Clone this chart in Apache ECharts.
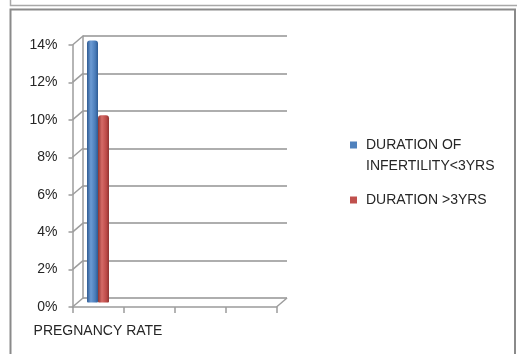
<!DOCTYPE html>
<html>
<head>
<meta charset="utf-8">
<script src="https://cdn.jsdelivr.net/npm/echarts@6/dist/echarts.min.js"></script>
<style>
html, body { margin: 0; padding: 0; background: #fff; }
#Chart { width: 517px; height: 354px; }
</style>
</head>
<body>
<div id="Chart"></div>
<script>
var categories = ['PREGNANCY RATE', '', '', ''];
var seriesNames = ['DURATION OF\nINFERTILITY<3YRS', 'DURATION >3YRS'];
var shortInfertility = [14, null, null, null];
var longInfertility = [10, null, null, null];
var yTicks = [0, 2, 4, 6, 8, 10, 12, 14];

var lineColor = '#9c9c9c';
var textColor = '#262626';
var font = 'Liberation Sans';
// 3D depth: back wall is shifted this much from the front plane
var depthX = 10.5, depthY = -9;

// cylinder-like shading across the bar
function cylinder(edge, light, mid) {
    return new echarts.graphic.LinearGradient(0, 0, 1, 0, [
        { offset: 0, color: edge },
        { offset: 0.35, color: light },
        { offset: 0.75, color: mid },
        { offset: 1, color: edge }
    ]);
}

var Chart = function () {
    var myChart = echarts.init(document.getElementById('Chart'));
    var connectors = yTicks.map(function (v) { return [0, v, -1]; });
    connectors.push([categories.length - 1, 0, 1]);

    var option = {
        animation: false,
        backgroundColor: '#fff',
        textStyle: { fontFamily: font },
        graphic: [
            { type: 'polyline', silent: true, shape: { points: [[10.5, 0], [10.5, 5.5], [517, 5.5]] },
              style: { stroke: '#a8a8a8', lineWidth: 1.5, fill: null } },
            { type: 'polyline', silent: true, shape: { points: [[10.5, 360], [10.5, 9.5], [515, 9.5], [515, 360]] },
              style: { stroke: '#8a8a8a', lineWidth: 2, fill: null } }
        ],
        legend: {
            orient: 'vertical',
            left: 350,
            top: 112.75,
            padding: 0,
            itemWidth: 7,
            itemHeight: 7,
            itemGap: 12,
            icon: 'rect',
            selectedMode: false,
            // blank first line so the marker sits beside the first text line
            formatter: function (name) {
                return name.indexOf('\n') >= 0 ? ' \n' + name : name;
            },
            textStyle: { fontSize: 14, color: textColor, fontFamily: font, lineHeight: 21.5, padding: [0, 0, 0, 4] },
            data: [
                { name: seriesNames[0], itemStyle: { color: '#4f81bd' } },
                { name: seriesNames[1], itemStyle: { color: '#c0504d' } }
            ]
        },
        grid: [
            // front plane
            { left: 72.5, top: 45, width: 204, height: 262 },
            // back wall
            { left: 72.5 + depthX, top: 45 + depthY, width: 204, height: 262 },
            // middle (bars)
            { left: 72.5, top: 45 + depthY / 2, width: 204, height: 262 }
        ],
        xAxis: [
            {
                gridIndex: 0,
                type: 'category',
                data: categories,
                boundaryGap: true,
                axisLine: { show: true, lineStyle: { color: lineColor, width: 1.5 } },
                axisTick: { show: true, length: 6, alignWithLabel: false, lineStyle: { color: lineColor, width: 1.5 } },
                axisLabel: { interval: 0, margin: 17, fontSize: 14, color: textColor, fontFamily: font },
                splitLine: { show: false }
            },
            { gridIndex: 1, type: 'category', data: categories, show: false },
            { gridIndex: 2, type: 'category', data: categories, show: false }
        ],
        yAxis: [
            {
                gridIndex: 0,
                type: 'value',
                min: 0, max: 14, interval: 2,
                axisLine: { show: true, lineStyle: { color: lineColor, width: 1.5 } },
                axisTick: { show: true, length: 4, lineStyle: { color: lineColor, width: 1.5 } },
                axisLabel: { formatter: '{value}%', margin: 15, fontSize: 14, color: textColor, fontFamily: font },
                splitLine: { show: false }
            },
            {
                gridIndex: 1,
                type: 'value',
                min: 0, max: 14, interval: 2,
                axisLine: { show: true, lineStyle: { color: lineColor, width: 1.5 } },
                axisTick: { show: false },
                axisLabel: { show: false },
                splitLine: { show: true, lineStyle: { color: '#939393', width: 1.5 } }
            },
            { gridIndex: 2, type: 'value', min: 0, max: 14, interval: 2, show: false, splitLine: { show: false } }
        ],
        series: [
            {
                name: seriesNames[0],
                type: 'bar',
                xAxisIndex: 2, yAxisIndex: 2,
                barWidth: 11,
                barGap: '0%',
                itemStyle: { color: cylinder('#2d5a92', '#6c9bd4', '#4a7cb9'), borderRadius: [3, 3, 1, 1] },
                data: shortInfertility
            },
            {
                name: seriesNames[1],
                type: 'bar',
                xAxisIndex: 2, yAxisIndex: 2,
                barWidth: 11,
                barGap: '0%',
                itemStyle: { color: cylinder('#8e3431', '#d56b67', '#bd4b48'), borderRadius: [3, 3, 1, 1] },
                data: longInfertility
            },
            {
                // depth edges joining front axis ticks to the back wall
                type: 'custom',
                xAxisIndex: 0, yAxisIndex: 0,
                silent: true,
                renderItem: function (params, api) {
                    var p = api.coord([api.value(0), api.value(1)]);
                    var half = api.size([1, 0])[0] / 2;
                    var x = p[0] + api.value(2) * half;
                    return {
                        type: 'line',
                        shape: { x1: x, y1: p[1], x2: x + depthX, y2: p[1] + depthY },
                        style: { stroke: lineColor, lineWidth: 1.5 }
                    };
                },
                data: connectors
            }
        ]
    };
    myChart.setOption(option);
};

Chart();
</script>
</body>
</html>
